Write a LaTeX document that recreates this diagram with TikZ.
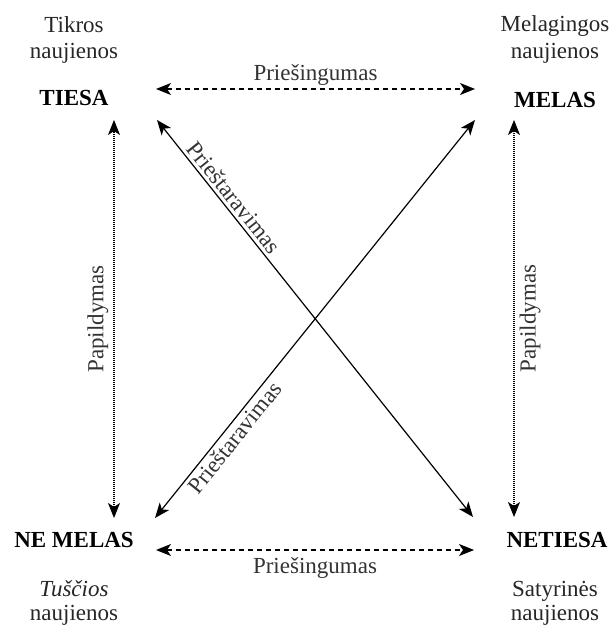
\documentclass[tikz,border=0pt]{standalone}
\usepackage{fontspec}
\setmainfont{Liberation Serif}
\usetikzlibrary{arrows.meta}
\begin{document}
\begin{tikzpicture}[x=1pt,y=1pt,
  txt/.style={font=\fontsize{23}{28}\selectfont, inner sep=0pt, anchor=base, text=black!85},
  head/.style={font=\fontsize{23}{28}\selectfont\bfseries, inner sep=0pt, anchor=base},
  lbl/.style={font=\fontsize{23}{28}\selectfont, inner sep=3pt, text=black!80},
  dtip/.style={{Stealth[length=15pt,width=12pt,inset=4pt]}-{Stealth[length=15pt,width=12pt,inset=4pt]}},
  dashedarrow/.style={dtip, line width=1.2pt, dash pattern=on 5pt off 4pt},
  dottedarrow/.style={dtip, line width=1.1pt, dash pattern=on 1pt off 1pt},
  diagarrow/.style={dtip, line width=1.2pt}
]
\useasboundingbox (0,0) rectangle (615,628);
% corner texts
\node[txt] (tikros) at (74,595) {Tikros};
\node[txt] (tikrosn) at (74,569) {naujienos};
\node[head] (tiesa) at (74,522) {TIESA};
\node[txt] (melag) at (555,596) {Melagingos};
\node[txt] (melagn) at (555,569) {naujienos};
\node[head] (melas) at (555,520) {MELAS};
\node[head] (nemelas) at (74,80) {NE MELAS};
\node[txt, font=\fontsize{23}{28}\selectfont\itshape] (tuscios) at (74,31) {Tuščios};
\node[txt] (tusciosn) at (74,7) {naujienos};
\node[head] (netiesa) at (557,80) {NETIESA};
\node[txt] (satyr) at (555,31) {Satyrinės};
\node[txt] (satyrn) at (555,7) {naujienos};
% arrow end points
\coordinate (tl) at (156,539);
\coordinate (tr) at (475,539);
\coordinate (bl) at (156,78);
\coordinate (br) at (474,78);
\coordinate (lt) at (114,508);
\coordinate (lb) at (114,110);
\coordinate (rt) at (514,508);
\coordinate (rb) at (514,111);
\coordinate (d1a) at (157,508);
\coordinate (d1b) at (473,111);
\coordinate (d2a) at (155,110);
\coordinate (d2b) at (475,508);
% connectors
\draw[dashedarrow] (tl) -- node[lbl, above] (p1) {Priešingumas} (tr);
\draw[dashedarrow] (bl) -- node[lbl, below, yshift=-4pt] (p2) {Priešingumas} (br);
\draw[dottedarrow] (lb) -- node[lbl, sloped, above, pos=0.5, yshift=2pt] (pa1) {Papildymas} (lt);
\draw[dottedarrow] (rb) -- node[lbl, sloped, below, pos=0.5, yshift=-2pt] (pa2) {Papildymas} (rt);
\draw[diagarrow] (d1a) -- node[lbl, sloped, above, pos=0.215] (pr1) {Prieštaravimas} (d1b);
\draw[diagarrow] (d2a) -- node[lbl, sloped, below, pos=0.22] (pr2) {Prieštaravimas} (d2b);
\end{tikzpicture}
\end{document}
